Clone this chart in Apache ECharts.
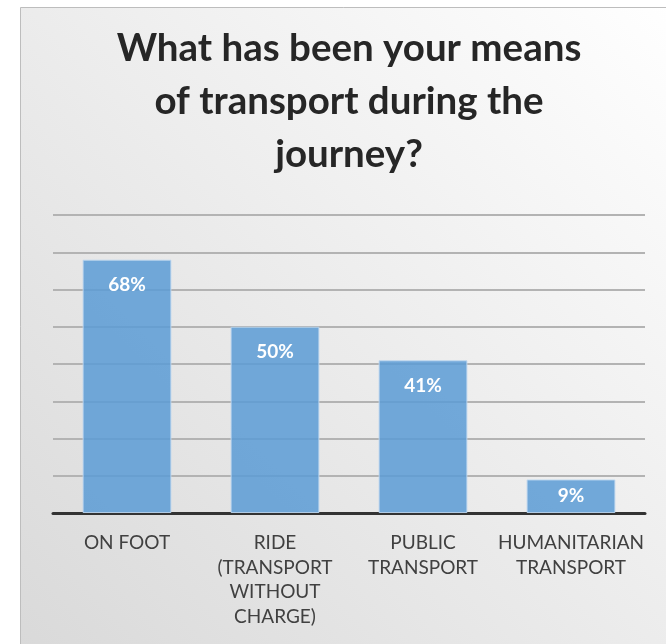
<!DOCTYPE html>
<html>
<head>
<meta charset="utf-8">
<script src="https://cdn.jsdelivr.net/npm/echarts@6/dist/echarts.min.js"></script>
<style>html,body{margin:0;padding:0;background:#fff}#c{width:666px;height:644px}</style>
</head>
<body>
<div id="c"></div>
<script>
var titleLines = ['What has been your means', 'of transport during the', 'journey?'];
var categories = ['ON FOOT', 'RIDE\n(TRANSPORT\nWITHOUT\nCHARGE)', 'PUBLIC\nTRANSPORT', 'HUMANITARIAN\nTRANSPORT'];
var values = [68, 50, 41, 9];
var yMin = 0, yMax = 80, yInterval = 10;

var chart = echarts.init(document.getElementById('c'), null, {renderer: 'canvas'});
var font = 'Lato, "Open Sans", sans-serif';
chart.setOption({
  animation: false,
  backgroundColor: '#ffffff',
  graphic: [
    {type: 'rect', z: -10, shape: {x: 20.5, y: 7.5, width: 660, height: 650},
     style: {fill: new echarts.graphic.LinearGradient(1, 0, 0, 1, [{offset: 0, color: '#ffffff'}, {offset: 1, color: '#d9d9d9'}]), stroke: '#bdbdbd', lineWidth: 1}},
    {type: 'text', z: 10, x: 349, y: 22,
     style: {text: titleLines.join('\n'), textAlign: 'center', fill: '#262626',
       font: 'bold 38.5px ' + font, lineHeight: 53}}
  ],
  grid: {left: 53, right: 21, top: 215, bottom: 131},
  xAxis: {
    type: 'category', data: categories,
    axisLine: {lineStyle: {color: '#333333', width: 3}},
    axisTick: {show: false},
    axisLabel: {interval: 0, color: '#404040', fontFamily: font, fontSize: 19, lineHeight: 24.5, margin: 18}
  },
  yAxis: {
    type: 'value', min: yMin, max: yMax, interval: yInterval,
    axisLabel: {show: false}, axisLine: {show: false}, axisTick: {show: false},
    splitLine: {lineStyle: {color: '#b3b3b3', width: 2}}
  },
  series: [{
    type: 'bar', barWidth: '60%',
    data: values.map(function (v) {
      return v < 15 ? {value: v, label: {position: 'inside'}} : v;
    }),
    itemStyle: {color: 'rgba(91,155,213,0.85)', borderColor: 'rgba(190,215,240,0.9)', borderWidth: 1},
    label: {show: true, position: 'insideTop', distance: 16, color: '#ffffff', fontFamily: font,
      fontWeight: 'bold', fontSize: 19, formatter: function (p) { return p.value + '%'; }}
  }]
});
</script>
</body>
</html>
